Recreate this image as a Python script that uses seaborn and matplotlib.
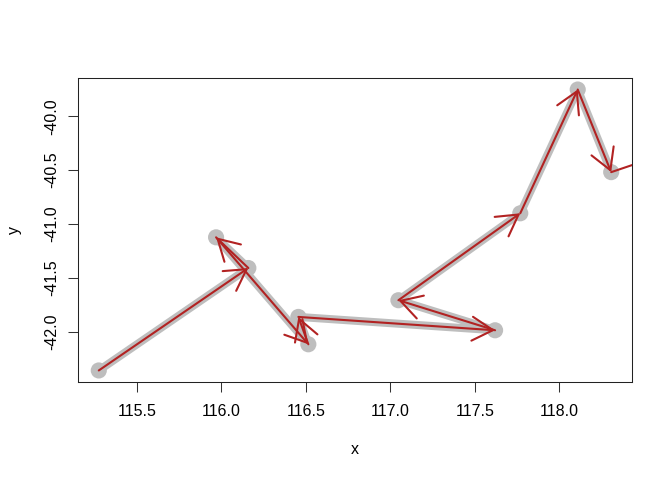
import matplotlib
matplotlib.use("Agg")
import matplotlib.pyplot as plt
from matplotlib.patches import FancyArrowPatch
import seaborn as sns
import pandas as pd

# track positions (in order of travel)
lon = [115.275, 116.160, 115.969, 116.515, 116.456, 117.620, 117.048, 117.769, 118.109, 118.307]
lat = [-42.360, -41.409, -41.124, -42.117, -41.863, -41.987, -41.708, -40.901, -39.752, -40.519]
# next position, beyond the right edge of the plot (only its arrow shows)
lon_next = 118.72
lat_next = -40.30

x_ticks = [115.5, 116.0, 116.5, 117.0, 117.5, 118.0]
y_ticks = [-42.0, -41.5, -41.0, -40.5, -40.0]

df = pd.DataFrame({"x": lon, "y": lat})

plt.rcParams["font.family"] = ["Liberation Sans", "DejaVu Sans"]
fs = 11.5

fig = plt.figure(figsize=(6.72, 4.8), dpi=100)
ax = fig.add_axes([0.1165, 0.2048, 0.8235, 0.6321])

# grey path and points
sns.lineplot(data=df, x="x", y="y", sort=False, estimator=None,
             color="#bebebe", linewidth=5.8, ax=ax, zorder=1)
sns.scatterplot(data=df, x="x", y="y", color="#bebebe", s=135,
                edgecolor="none", ax=ax, zorder=2)

# red arrows from each point to the next
ends_x = lon[1:] + [lon_next]
ends_y = lat[1:] + [lat_next]
for x0, y0, x1, y1 in zip(lon, lat, ends_x, ends_y):
    arr = FancyArrowPatch((x0, y0), (x1, y1),
                          arrowstyle="->,head_length=1.5,head_width=0.86",
                          mutation_scale=10, shrinkA=0, shrinkB=0,
                          color="#b22222", linewidth=1.5, zorder=3)
    ax.add_patch(arr)

# R-like axis ranges (4% padding around the plotted points)
rx = max(lon) - min(lon)
ry = max(lat) - min(lat)
ax.set_xlim(min(lon) - 0.04 * rx, max(lon) + 0.04 * rx)
ax.set_ylim(min(lat) - 0.04 * ry, max(lat) + 0.04 * ry)

ax.set_xticks(x_ticks)
ax.set_yticks(y_ticks)
ax.set_xticklabels([f"{v:.1f}" for v in x_ticks])
ax.set_yticklabels([f"{v:.1f}" for v in y_ticks], rotation=90, va="center")
ax.tick_params(axis="both", direction="out", length=6.9, width=0.75,
               color="#333333", labelsize=fs)
ax.tick_params(axis="x", pad=9.5)
ax.tick_params(axis="y", pad=6.5)

for s in ax.spines.values():
    s.set_linewidth(0.75)
    s.set_color("#222222")

ax.set_xlabel("x", fontsize=fs, labelpad=16)
ax.set_ylabel("y", fontsize=fs, labelpad=16)

fig.savefig("out.png", dpi=100)
